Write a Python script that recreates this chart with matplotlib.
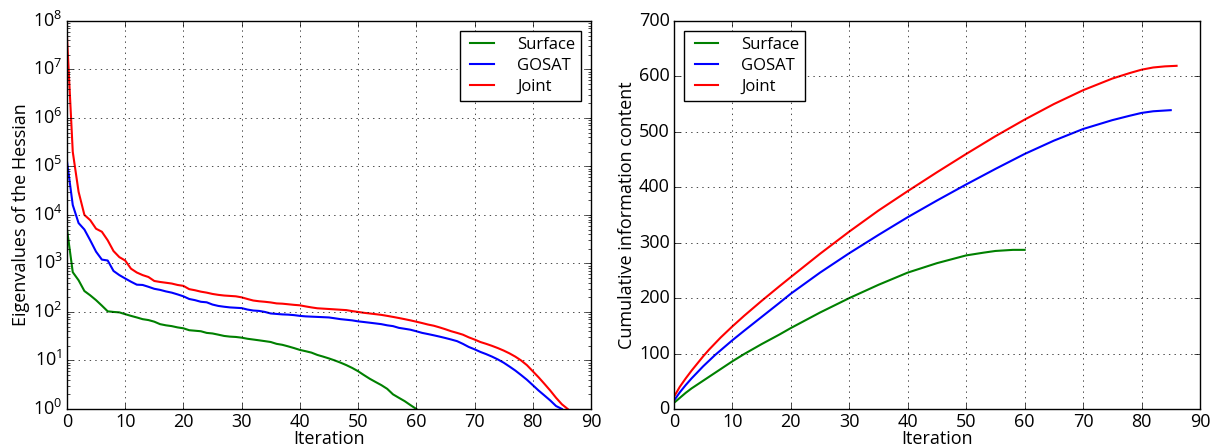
import matplotlib
matplotlib.use("Agg")
import matplotlib.pyplot as plt
import numpy as np

# eigenvalues of the Hessian, one per iteration
surface_eig = [5.2e3, 660, 450, 270, 220, 175, 135, 103, 100, 98,
               90, 83, 77, 71, 68, 63, 56, 53, 51, 48,
               46, 42, 41, 40, 37, 36, 34, 32, 31, 30.5,
               29.5, 28, 27, 26, 25, 24, 22, 21, 19.5, 18,
               16.5, 15.5, 14.5, 13, 12, 11, 10, 9, 8, 7,
               6, 5, 4.2, 3.6, 3.1, 2.6, 2.0, 1.7, 1.45, 1.2,
               1.0]
gosat_eig = [1.3e5, 1.6e4, 6.8e3, 5.0e3, 3.0e3, 1.75e3, 1.2e3, 1.15e3, 700, 575,
             490, 420, 365, 360, 330, 300, 285, 265, 250, 230,
             210, 185, 175, 162, 158, 142, 133, 128, 124, 122,
             120, 112, 107, 105, 100, 93, 91, 89, 88, 86,
             83, 81, 80, 79, 78, 77, 74, 71, 69, 67,
             64, 62, 60, 58, 56, 53, 51, 47, 45, 43,
             40, 37, 35, 33, 31, 29, 27, 25, 22, 19,
             17, 15, 13.5, 12, 10.5, 9, 7.5, 6.2, 5.0, 4.0,
             3.1, 2.4, 1.9, 1.5, 1.15, 1.0]
joint_eig = [5.0e7, 2.0e5, 3.0e4, 1.0e4, 7.8e3, 5.2e3, 4.5e3, 3.0e3, 1.8e3, 1.35e3,
             1.15e3, 780, 650, 575, 525, 435, 415, 400, 385, 360,
             345, 295, 280, 262, 250, 235, 225, 218, 214, 210,
             200, 185, 172, 166, 162, 157, 150, 148, 144, 140,
             137, 130, 124, 119, 117, 115, 113, 111, 109, 104,
             100, 96, 93, 90, 87, 83, 79, 75, 71, 67,
             63, 59, 55, 52, 48, 44, 40, 37, 34, 30,
             27, 24, 22, 20, 18, 16, 14, 12, 10, 8,
             6, 4.5, 3.3, 2.4, 1.7, 1.25, 1.0]

# cumulative information content (sampled iterations)
surface_it = [0, 1, 2, 3, 4, 5, 6, 7, 8, 10, 12, 15, 18, 20, 25, 30, 35, 40, 45, 50, 53, 55, 58, 60]
surface_dofs = [11, 20, 29, 37, 44, 51, 58, 65, 72, 86, 99, 117, 134, 146, 174, 200, 224, 246, 263, 277, 282, 285, 287, 287]
gosat_it = [0, 1, 2, 3, 4, 5, 6, 7, 8, 10, 12, 15, 18, 20, 25, 30, 35, 40, 45, 50, 55, 60, 65, 70, 75, 78, 80, 82, 85]
gosat_dofs = [15, 30, 43, 55, 66, 77, 87, 97, 106, 124, 141, 166, 191, 208, 246, 281, 314, 346, 376, 405, 433, 460, 484, 505, 521, 529, 534, 537, 539]
joint_it = [0, 1, 2, 3, 4, 5, 6, 7, 8, 10, 12, 15, 18, 20, 25, 28, 30, 35, 40, 45, 50, 55, 60, 65, 70, 75, 78, 80, 82, 84, 86]
joint_dofs = [22, 40, 55, 69, 82, 95, 107, 118, 129, 149, 168, 195, 221, 238, 280, 304, 320, 358, 393, 427, 460, 492, 522, 550, 575, 596, 606, 612, 616, 618, 619]

names = ["Surface", "GOSAT", "Joint"]
colors = ["g", "b", "r"]

plt.style.use("classic")
plt.rcParams["font.family"] = ["Open Sans", "DejaVu Sans"]
plt.rcParams["font.size"] = 12
plt.rcParams["mathtext.default"] = "regular"

fig = plt.figure(figsize=(12.17, 4.45), dpi=100, facecolor="white")
ax1 = fig.add_axes([0.055, 0.081, 0.4306, 0.872])
ax2 = fig.add_axes([0.5538, 0.081, 0.4322, 0.872])

eigs = [surface_eig, gosat_eig, joint_eig]
for name, color, e in zip(names, colors, eigs):
    ax1.semilogy(np.arange(len(e)), e, color=color, lw=1.5, label=name)
ax1.set_xlim(0, 90)
ax1.set_ylim(1, 1e8)
ax1.set_xlabel("Iteration", fontsize=13, labelpad=-1)
ax1.set_ylabel("Eigenvalues of the Hessian", fontsize=13, labelpad=2)
ax1.grid(True, color="k", linestyle=":")
ax1.legend(loc="upper right", fontsize=12, handlelength=2.0, handletextpad=1.1,
           borderpad=0.35, labelspacing=0.3, borderaxespad=0.6)

its = [surface_it, gosat_it, joint_it]
dofs = [surface_dofs, gosat_dofs, joint_dofs]
for name, color, x, d in zip(names, colors, its, dofs):
    ax2.plot(x, d, color=color, lw=1.5, label=name)
ax2.set_xlim(0, 90)
ax2.set_ylim(0, 700)
ax2.set_xlabel("Iteration", fontsize=13, labelpad=-1)
ax2.set_ylabel("Cumulative information content", fontsize=13, labelpad=2)
ax2.grid(True, color="k", linestyle=":")
ax2.legend(loc="upper left", fontsize=12, handlelength=2.0, handletextpad=1.1,
           borderpad=0.35, labelspacing=0.3, borderaxespad=0.6)

for ax in [ax1, ax2]:
    ax.tick_params(labelsize=13, pad=3)

fig.savefig("out.png", dpi=100, facecolor="white")
